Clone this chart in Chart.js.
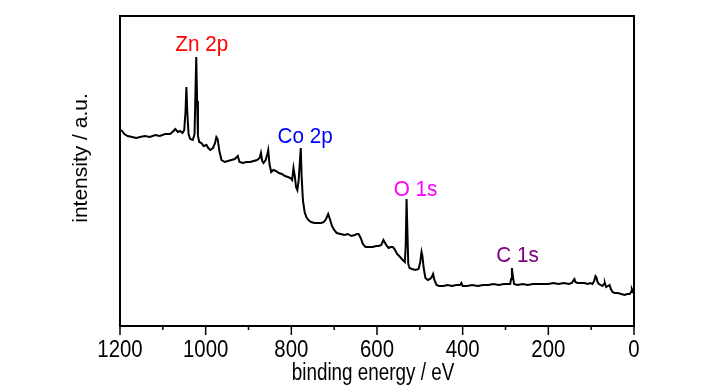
<!DOCTYPE html>
<html>
<head>
<meta charset="utf-8">
<script src="https://cdn.jsdelivr.net/npm/chart.js@4.4.1/dist/chart.umd.min.js"></script>
<style>
  body { margin: 0; background: #fff; }
  #wrap { width: 721px; height: 387px; }
</style>
</head>
<body>
<div id="wrap"><canvas id="xps" width="721" height="387"></canvas></div>
<script>
// survey spectrum (binding energy in eV, intensity in a.u.)
const energy = [1199, 1195, 1190, 1182, 1172, 1162, 1153, 1142, 1130, 1118, 1107, 1095, 1083, 1075, 1071, 1065, 1060, 1054, 1050, 1047, 1045, 1043, 1040, 1036, 1030, 1026, 1024, 1022, 1020, 1018, 1015, 1010, 1005, 998, 994, 989, 983, 978, 975, 972, 968, 963, 955, 948, 940, 932, 925, 921, 913, 905, 896, 888, 880, 874, 871, 868, 865, 860, 856, 854, 851, 847, 842, 836, 829, 822, 815, 808, 802, 798, 795, 792, 789, 786, 783, 780, 778, 776, 773, 769, 765, 760, 754, 746, 738, 730, 724, 719, 714, 710, 705, 700, 694, 685, 676, 668, 660, 652, 647, 643, 638, 633, 627, 618, 610, 602, 596, 590, 585, 581, 577, 573, 568, 563, 559, 553, 546, 540, 535, 533, 531, 529, 527, 524, 518, 510, 503, 499, 496, 494, 491, 487, 481, 476, 472, 469, 466, 461, 455, 445, 435, 425, 415, 406, 403, 400, 390, 378, 365, 352, 340, 328, 316, 304, 296, 289, 287, 285, 283, 280, 272, 260, 248, 236, 224, 212, 200, 188, 176, 164, 152, 145, 141, 139, 137, 132, 124, 116, 108, 102, 97, 93, 90, 88, 85, 82, 78, 74, 70, 68, 65, 61, 57, 54, 50, 45, 38, 30, 22, 16, 10, 7, 5, 3, 1];
const intensity = [196, 195, 192, 190, 189, 188, 189, 190, 189, 191, 190, 192, 192, 195, 197, 194, 195, 193, 196, 215, 239, 215, 192, 187, 186, 192, 230, 269, 225, 190, 184, 183, 180, 181, 178, 176, 178, 183, 189, 187, 175, 166, 164, 165, 166, 167, 170, 164, 163, 164, 164, 165, 166, 168, 173, 165, 163, 166, 172, 176, 162, 154, 156, 155, 153, 152, 150, 149, 148, 146, 158, 150, 139, 136, 145, 165, 178, 150, 126, 114, 109, 106, 104, 103, 103, 103, 104, 107, 112, 107, 100, 96, 93, 92, 91, 92, 90, 91, 92, 92, 88, 82, 79, 79, 79, 80, 80, 81, 86, 83, 80, 78, 79, 79, 77, 72, 69, 66, 64, 80, 127, 95, 62, 58, 57, 56, 57, 64, 74, 70, 58, 48, 46, 47, 49, 52, 46, 41, 40, 40, 41, 40, 41, 41, 43, 40, 40, 41, 40, 41, 41, 42, 41, 42, 42, 42, 47, 58, 50, 42, 41, 42, 41, 42, 42, 42, 42, 43, 42, 43, 42, 43, 46, 47, 44, 43, 43, 43, 42, 43, 42, 45, 50, 49, 44, 42, 41, 40, 42, 43, 39, 40, 41, 37, 34, 33, 33, 32, 31, 32, 32, 34, 37, 35, 33];

// peak labels
const peakNames = ['Zn 2p', 'Co 2p', 'O 1s', 'C 1s'];
const peakColors = ['#ff0000', '#0000ff', '#ff00ff', '#800080'];
const peakLabelEnergy = [1009, 768, 510, 272];
const peakLabelHeight = [275, 183, 130, 64];

const xTitle = 'binding energy / eV';
const yTitle = 'intensity / a.u.';
const fontFamily = "'Liberation Sans', Arial, sans-serif";

// text in the original is a little squeezed sideways
function squeezedText(ctx, text, px, py, sx) {
    ctx.save();
    ctx.translate(px, py);
    ctx.scale(sx, 1);
    ctx.fillText(text, 0, 0);
    ctx.restore();
}

const framePlugin = {
    id: 'frame',
    afterDatasetsDraw(chart) {
        const { ctx, chartArea: a, scales: { x, y } } = chart;
        ctx.save();
        ctx.strokeStyle = '#000';
        ctx.fillStyle = '#000';

        // box around the plot
        ctx.lineWidth = 2;
        ctx.strokeRect(a.left, a.top, a.right - a.left, a.bottom - a.top);

        // ticks and labels of the energy axis
        ctx.lineWidth = 1.5;
        ctx.font = '24px ' + fontFamily;
        ctx.textAlign = 'center';
        ctx.textBaseline = 'alphabetic';
        x.ticks.forEach(t => {
            const px = x.getPixelForValue(t.value);
            const major = t.value % 200 === 0;
            ctx.beginPath();
            ctx.moveTo(px, a.bottom);
            ctx.lineTo(px, a.bottom + (major ? 9 : 4));
            ctx.stroke();
            if (major) squeezedText(ctx, String(t.value), px, a.bottom + 31, 0.85);
        });

        // axis titles
        ctx.font = '23px ' + fontFamily;
        squeezedText(ctx, xTitle, 373, a.bottom + 54, 0.82);
        ctx.save();
        ctx.font = '21px ' + fontFamily;
        ctx.translate(87, 158);
        ctx.rotate(-Math.PI / 2);
        ctx.fillText(yTitle, 0, 0);
        ctx.restore();

        // peak labels
        ctx.font = '22px ' + fontFamily;
        peakNames.forEach((name, i) => {
            ctx.fillStyle = peakColors[i];
            squeezedText(ctx, name, x.getPixelForValue(peakLabelEnergy[i]), y.getPixelForValue(peakLabelHeight[i]), 0.94);
        });
        ctx.restore();
    }
};

new Chart(document.getElementById('xps'), {
    type: 'line',
    data: {
        datasets: [{
            data: energy.map((e, i) => ({ x: e, y: intensity[i] })),
            borderColor: '#000',
            borderWidth: 2,
            pointRadius: 0,
            tension: 0
        }]
    },
    options: {
        responsive: false,
        animation: false,
        layout: { padding: { top: 16, right: 87, left: 0, bottom: 0 } },
        plugins: { legend: { display: false }, tooltip: { enabled: false } },
        scales: {
            x: {
                type: 'linear',
                reverse: true,
                min: 0,
                max: 1200,
                afterFit: scale => { scale.height = 61; },
                ticks: { stepSize: 100, autoSkip: false, maxRotation: 0, callback: () => '' },
                grid: { display: false },
                border: { color: '#000', width: 2 }
            },
            y: {
                min: 0,
                max: 310,
                afterFit: scale => { scale.width = 120; },
                ticks: { display: false },
                grid: { display: false },
                border: { color: '#000', width: 2 }
            }
        }
    },
    plugins: [framePlugin]
});
</script>
</body>
</html>
